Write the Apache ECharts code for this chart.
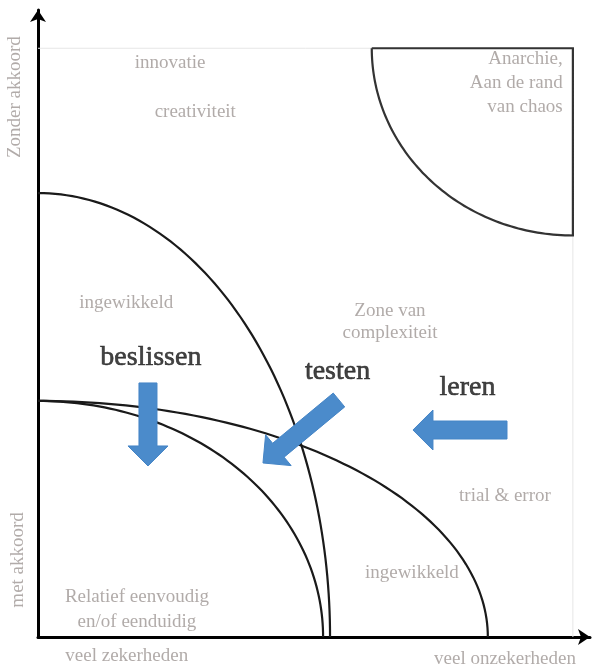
<!DOCTYPE html>
<html>
<head>
<meta charset="utf-8">
<script src="https://cdn.jsdelivr.net/npm/echarts@6/dist/echarts.min.js"></script>
<style>html,body{margin:0;padding:0;background:#fff}#c{width:596px;height:664px}</style>
</head>
<body>
<div id="c"></div>
<script>
// ---- data (in diagram units: frame = 0..100 on both axes) ----
const X_MAX = 103.2, Y_MAX = 106.5;
const frameX = [0, 100, 100];
const frameY = [100, 100, 0];
// zone boundaries: quarter-ellipse arcs
const arcCx = [0, 0, 0, 100];
const arcCy = [0, 0, 0, 100];
const arcRx = [54.6, 53.3, 84.1, 37.6];
const arcRy = [75.4, 40.1, 40.1, 31.8];
const arcFrom = [0, 0, 0, 180];
const arcTo = [90, 90, 90, 270];
// region labels
const regionText = ['innovatie', 'creativiteit', 'Anarchie,\nAan de rand\nvan chaos', 'ingewikkeld',
  'Zone van\ncomplexiteit', 'trial & error', 'ingewikkeld', 'Relatief eenvoudig\nen/of eenduidig'];
const regionX = [24.7, 29.4, 98.1, 16.5, 65.8, 87.3, 69.9, 18.5];
const regionY = [97.5, 89.2, 94.1, 56.7, 53.5, 24.0, 10.9, 4.6];
// axis labels
const axisText = ['Zonder akkoord', 'met akkoord', 'veel zekerheden', 'veel onzekerheden'];
const axisTextX = [-4.3, -3.7, 16.6, 87.3];
const axisTextY = [91.7, 13.1, -3.2, -3.7];
// actions + arrows
const actionText = ['beslissen', 'testen', 'leren'];
const actionX = [21.1, 56.0, 80.3];
const actionY = [47.4, 45.0, 42.3];
const arrowFromX = [20.56, 56.27, 87.68];
const arrowFromY = [43.15, 40.26, 35.16];
const arrowToX = [20.56, 42.06, 70.1];
const arrowToY = [29.05, 29.56, 35.16];

const SERIF = '"Liberation Serif", "DejaVu Serif", serif';
const GRAY = '#9e9694';

const chart = echarts.init(document.getElementById('c'), null, {renderer: 'canvas'});

function renderArc(params, api) {
  const c = api.coord([api.value(0), api.value(1)]);
  const s = api.size([api.value(2), api.value(3)]);
  const a0 = api.value(4), a1 = api.value(5);
  const N = 80, pts = [];
  for (let i = 0; i <= N; i++) {
    const t = (a0 + (a1 - a0) * i / N) * Math.PI / 180;
    pts.push([c[0] + s[0] * Math.cos(t), c[1] - s[1] * Math.sin(t)]);
  }
  const closed = params.dataIndex === 3;
  if (closed) { pts.push([c[0], c[1]]); pts.push(pts[0]); }
  return {type: 'polyline', shape: {points: pts},
    style: {stroke: closed ? '#333' : '#1a1a1a', lineWidth: 2.2, fill: null}};
}

function renderArrow(params, api) {
  const p0 = api.coord([api.value(0), api.value(1)]);
  const p1 = api.coord([api.value(2), api.value(3)]);
  const dx = p1[0] - p0[0], dy = p1[1] - p0[1];
  const L = Math.sqrt(dx * dx + dy * dy);
  const ux = dx / L, uy = dy / L, nx = -uy, ny = ux;
  const sw = 18, hw = 40, hl = 20;
  const bx = p1[0] - ux * hl, by = p1[1] - uy * hl;
  const pts = [
    [p0[0] + nx * sw / 2, p0[1] + ny * sw / 2],
    [bx + nx * sw / 2, by + ny * sw / 2],
    [bx + nx * hw / 2, by + ny * hw / 2],
    [p1[0], p1[1]],
    [bx - nx * hw / 2, by - ny * hw / 2],
    [bx - nx * sw / 2, by - ny * sw / 2],
    [p0[0] - nx * sw / 2, p0[1] - ny * sw / 2]
  ];
  return {type: 'polygon', shape: {points: pts}, style: {fill: '#4b8bcb', stroke: '#4585c6', lineWidth: 1}};
}

const arcData = arcCx.map((v, i) => [v, arcCy[i], arcRx[i], arcRy[i], arcFrom[i], arcTo[i]]);
const arrowData = arrowFromX.map((v, i) => [v, arrowFromY[i], arrowToX[i], arrowToY[i]]);

const regionData = regionText.map((t, i) => {
  const item = {name: t, value: [regionX[i], regionY[i]]};
  if (i === 2) item.label = {align: 'right', lineHeight: 24};
  if (i === 4) item.label = {lineHeight: 22};
  if (i === 7) item.label = {lineHeight: 25};
  return item;
});
const axisData = axisText.map((t, i) => ({
  name: t, value: [axisTextX[i], axisTextY[i]],
  label: i < 2 ? {rotate: 90} : {}
}));
const actionData = actionText.map((t, i) => ({name: t, value: [actionX[i], actionY[i]]}));

const textSeries = (data, size, color, border) => ({
  type: 'scatter', data: data, symbolSize: 0, clip: false, silent: true, z: 5,
  label: {show: true, position: 'inside', formatter: '{b}', fontFamily: SERIF,
    fontSize: size, color: color, textBorderColor: color, textBorderWidth: border || 0}
});

chart.setOption({
  animation: false,
  backgroundColor: '#fff',
  grid: {left: 38, right: 6, top: 10, bottom: 27},
  xAxis: {type: 'value', min: 0, max: X_MAX,
    axisLine: {show: true, onZero: false, symbol: ['none', 'arrow'], symbolSize: [12, 12],
      lineStyle: {color: '#000', width: 3}},
    axisTick: {show: false}, axisLabel: {show: false}, splitLine: {show: false}},
  yAxis: {type: 'value', min: 0, max: Y_MAX,
    axisLine: {show: true, onZero: false, symbol: ['none', 'arrow'], symbolSize: [12, 12],
      lineStyle: {color: '#000', width: 3}},
    axisTick: {show: false}, axisLabel: {show: false}, splitLine: {show: false}},
  series: [
    {type: 'line', data: frameX.map((v, i) => [v, frameY[i]]), symbol: 'none', silent: true,
      lineStyle: {color: '#e6e6e6', width: 1}, z: 1},
    {type: 'custom', data: arcData, renderItem: renderArc, clip: false, silent: true, z: 3},
    {type: 'custom', data: arrowData, renderItem: renderArrow, clip: false, silent: true, z: 4},
    textSeries(regionData, 19, GRAY),
    textSeries(axisData, 19, GRAY),
    textSeries(actionData, 28, '#141414', 0.6)
  ]
});
</script>
</body>
</html>
